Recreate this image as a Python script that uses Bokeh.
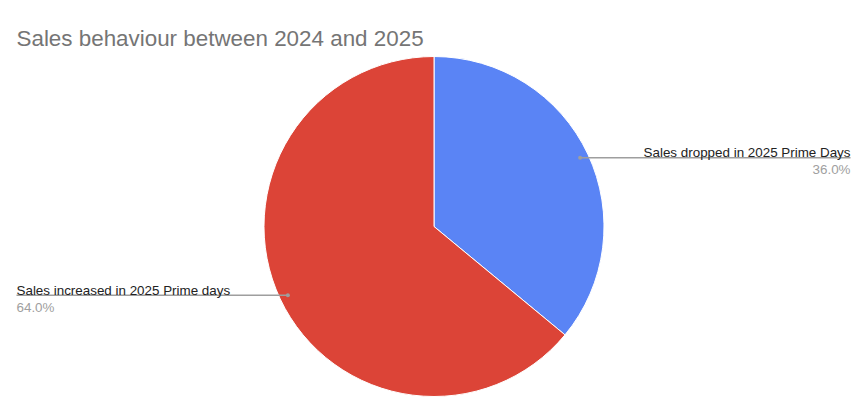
import math
from bokeh.plotting import figure
from bokeh.models import Range1d, ColumnDataSource
from bokeh.core.properties import value
from bokeh.embed import file_html
from bokeh.resources import INLINE

# ---- data ----
categories = ["Sales dropped in 2025 Prime Days", "Sales increased in 2025 Prime days"]
shares = [36.0, 64.0]
colors = ["#5A84F5", "#DC4437"]
title_text = "Sales behaviour between 2024 and 2025"

W, H = 865, 412
FONT = "Liberation Sans"

p = figure(width=W, height=H, output_backend="svg", toolbar_location=None,
           x_range=Range1d(0, W), y_range=Range1d(0, H), min_border=0)
p.axis.visible = False
p.grid.visible = False
p.outline_line_color = None
p.background_fill_color = "white"
p.border_fill_color = "white"

cx, cy, r = 433.5, H - 226.0, 170.0
total = sum(shares)

starts, ends, mids = [], [], []
acc = 0.0
for s in shares:
    a0 = acc / total * 2 * math.pi
    acc += s
    a1 = acc / total * 2 * math.pi
    starts.append(math.pi / 2 - a0)
    ends.append(math.pi / 2 - a1)
    mids.append((a0 + a1) / 2)

src = ColumnDataSource(dict(start=starts, end=ends, color=colors))
p.wedge(x=cx, y=cy, radius=r, start_angle="start", end_angle="end",
        direction="clock", fill_color="color", line_color="white",
        line_width=1, source=src)

# leader lines, dots and labels
for cat, s, m in zip(categories, shares, mids):
    dx = 0.95 * r * math.sin(m)
    dy = 0.95 * r * math.cos(m)
    px, py = cx + dx, cy + dy
    right = dx > 0
    x_end = 850 if right else 16
    p.line([px, x_end], [py, py], line_color="#9e9e9e", line_width=1.3)
    p.scatter([px], [py], size=4, fill_color="#9e9e9e", line_color=None)
    align = "right" if right else "left"
    p.text([x_end], [py + 5], text=[cat], text_align=align,
           text_baseline="alphabetic", text_font=value(FONT),
           text_font_size="13.4px", text_color="#222222")
    p.text([x_end], [py - 12], text=[f"{s:.1f}%"], text_align=align,
           text_baseline="alphabetic", text_font=value(FONT),
           text_font_size="13.4px", text_color="#a0a0a0")

# title
p.text([16], [H - 38], text=[title_text], text_align="left",
       text_baseline="alphabetic", text_font=value(FONT),
       text_font_size="22.4px", text_color="#757575")

open("out.html", "w").write(file_html(p, INLINE))
